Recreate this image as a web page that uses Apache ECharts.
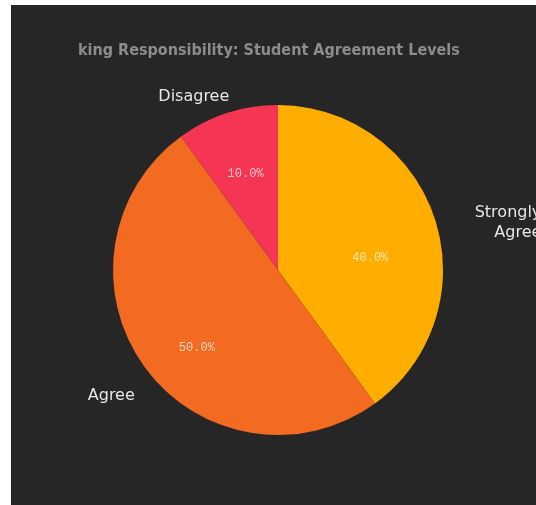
<!DOCTYPE html>
<html>
<head>
<meta charset="utf-8">
<script src="https://cdn.jsdelivr.net/npm/echarts@6/dist/echarts.min.js"></script>
<style>
  html, body { margin: 0; padding: 0; background: #ffffff; overflow: hidden; }
  #chart { position: absolute; left: 11px; top: 5px; width: 525px; height: 500px; background: #262626; }
</style>
</head>
<body>
<div id="chart"></div>
<script>
// Survey responses: share of students in each agreement level
const categories = ['Strongly\nAgree', 'Agree', 'Disagree'];
const shares = [40, 50, 10];
const sliceColors = ['#FFAE00', '#F26B21', '#F43554'];
const titleText = 'king Responsibility: Student Agreement Levels';

// nudges for the category names outside the pie and the percentages inside it
const outsideShift = [[82, 8, 'right'], [13, 22], [19, -5]];
const insideShift = [[11, 14], [-12, 28], [-6, -15]];

const chart = echarts.init(document.getElementById('chart'));

const pieData = categories.map((name, i) => ({
  name: name,
  value: shares[i],
  itemStyle: { color: sliceColors[i] }
}));

chart.setOption({
  backgroundColor: '#262626',
  animation: false,
  title: {
    text: titleText,
    left: 62,
    top: 33,
    textStyle: {
      fontFamily: 'DejaVu Sans Condensed, DejaVu Sans',
      fontWeight: 'bold',
      fontSize: 16,
      color: '#8c8c8c'
    }
  },
  series: [
    {
      type: 'pie',
      center: [267, 265],
      radius: 165,
      startAngle: 90,
      clockwise: true,
      data: pieData,
      label: {
        show: true,
        position: 'outside',
        formatter: '{b}',
        fontFamily: 'DejaVu Sans',
        fontSize: 16,
        color: '#e6e6e6',
        lineHeight: 20
      },
      labelLine: { show: false, length: 12, length2: 8 },
      labelLayout: (p) => {
        const s = outsideShift[p.dataIndex];
        const out = { dx: s[0], dy: s[1] };
        if (s[2]) out.align = s[2];
        return out;
      },
      emphasis: { disabled: true }
    },
    {
      type: 'pie',
      center: [267, 265],
      radius: 165,
      startAngle: 90,
      clockwise: true,
      silent: true,
      data: categories.map((name, i) => ({ name: name, value: shares[i] })),
      itemStyle: { color: 'transparent' },
      label: {
        show: true,
        position: 'inside',
        formatter: (p) => p.value.toFixed(1) + '%',
        fontFamily: 'Liberation Mono',
        fontSize: 12,
        color: 'rgba(255,255,255,0.7)'
      },
      labelLayout: (p) => ({ dx: insideShift[p.dataIndex][0], dy: insideShift[p.dataIndex][1] }),
      labelLine: { show: false }
    }
  ]
});
</script>
</body>
</html>
